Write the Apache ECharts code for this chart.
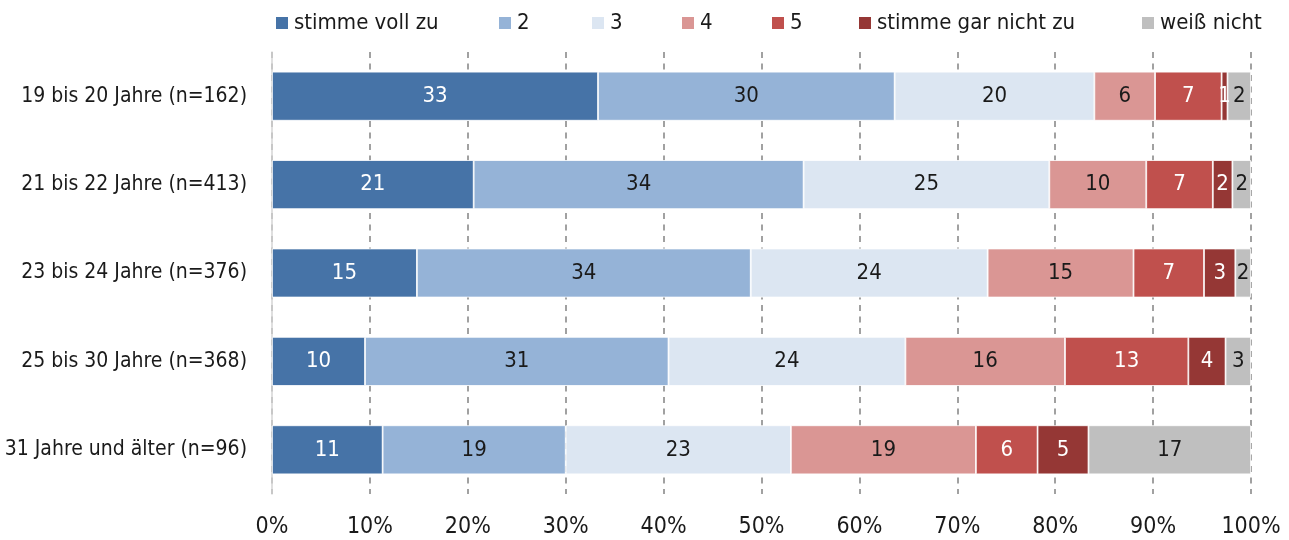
<!DOCTYPE html>
<html>
<head>
<meta charset="utf-8">
<script src="https://cdn.jsdelivr.net/npm/echarts@6/dist/echarts.min.js"></script>
<style>
  html, body { margin: 0; padding: 0; background: #fff; }
  #chart { width: 1289px; height: 540px; }
</style>
</head>
<body>
<div id="chart"></div>
<script>
// Categories (top to bottom)
const categories = [
  '19 bis 20 Jahre (n=162)',
  '21 bis 22 Jahre (n=413)',
  '23 bis 24 Jahre (n=376)',
  '25 bis 30 Jahre (n=368)',
  '31 Jahre und älter (n=96)'
];
// Series names
const seriesNames = ['stimme voll zu', '2', '3', '4', '5', 'stimme gar nicht zu', 'weiß nicht'];
// Values in percent, per answer, in category order
const voll     = [33.3, 20.6, 14.8,  9.5, 11.3];
const s2       = [30.3, 33.7, 34.1, 31.0, 18.7];
const s3       = [20.4, 25.1, 24.2, 24.2, 23.0];
const s4       = [ 6.2,  9.9, 14.9, 16.3, 18.9];
const s5       = [ 6.8,  6.8,  7.2, 12.6,  6.3];
const garNicht = [ 0.6,  2.0,  3.2,  3.8,  5.2];
const weissNicht = [2.4, 1.9,  1.6,  2.6, 16.6];
// Axis tick labels
const xTicks = [0, 10, 20, 30, 40, 50, 60, 70, 80, 90, 100];

const seriesData = [voll, s2, s3, s4, s5, garNicht, weissNicht];
const colors = ['#4673A7', '#95B3D7', '#DCE6F2', '#DA9694', '#C0504D', '#953735', '#BFBFBF'];
const labelColors = ['#ffffff', '#1a1a1a', '#1a1a1a', '#1a1a1a', '#ffffff', '#ffffff', '#1a1a1a'];
const legendLeft = [274, 497, 590, 680, 770, 857, 1140];

const FONT = "'DejaVu Sans Condensed', 'Liberation Sans Narrow', sans-serif";

const chart = echarts.init(document.getElementById('chart'), null, { renderer: 'canvas' });

const option = {
  animation: false,
  color: colors,
  textStyle: { fontFamily: FONT },
  legend: seriesNames.map((n, i) => ({
    data: [n],
    left: legendLeft[i],
    top: 12,
    padding: 0,
    itemWidth: 14,
    itemHeight: 14,
    itemGap: 0,
    icon: 'rect',
    selectedMode: false,
    textStyle: { fontFamily: FONT, fontSize: 22, color: '#1a1a1a' }
  })),
  grid: { left: 272, right: 38, top: 52, bottom: 46, containLabel: false, outerBoundsMode: 'none' },
  xAxis: {
    type: 'value',
    min: 0,
    max: 100,
    interval: 10,
    axisLine: { show: false },
    axisTick: { show: false },
    axisLabel: {
      formatter: v => xTicks.includes(v) ? v + '%' : '',
      fontFamily: FONT, fontSize: 23, color: '#1a1a1a', margin: 22
    },
    splitLine: { show: true, lineStyle: { color: '#8a8a8a', width: 1.6, type: [6, 5.5] } }
  },
  yAxis: {
    type: 'category',
    data: categories,
    inverse: true,
    axisLine: { show: true, lineStyle: { color: '#d4d4d4', width: 1.5 } },
    axisTick: { show: false },
    axisLabel: { fontFamily: FONT, fontSize: 21, color: '#1a1a1a', margin: 25 },
    splitLine: { show: false }
  },
  series: seriesNames.map((name, i) => ({
    name: name,
    type: 'bar',
    stack: 'total',
    barWidth: 49,
    data: seriesData[i],
    itemStyle: { color: colors[i], borderColor: '#ffffff', borderWidth: 0.8 },
    label: {
      show: true,
      position: 'inside',
      formatter: p => String(Math.round(p.value)),
      fontFamily: FONT,
      fontSize: 22,
      color: labelColors[i]
    },
    emphasis: { disabled: true }
  }))
};
chart.setOption(option);
</script>
</body>
</html>
